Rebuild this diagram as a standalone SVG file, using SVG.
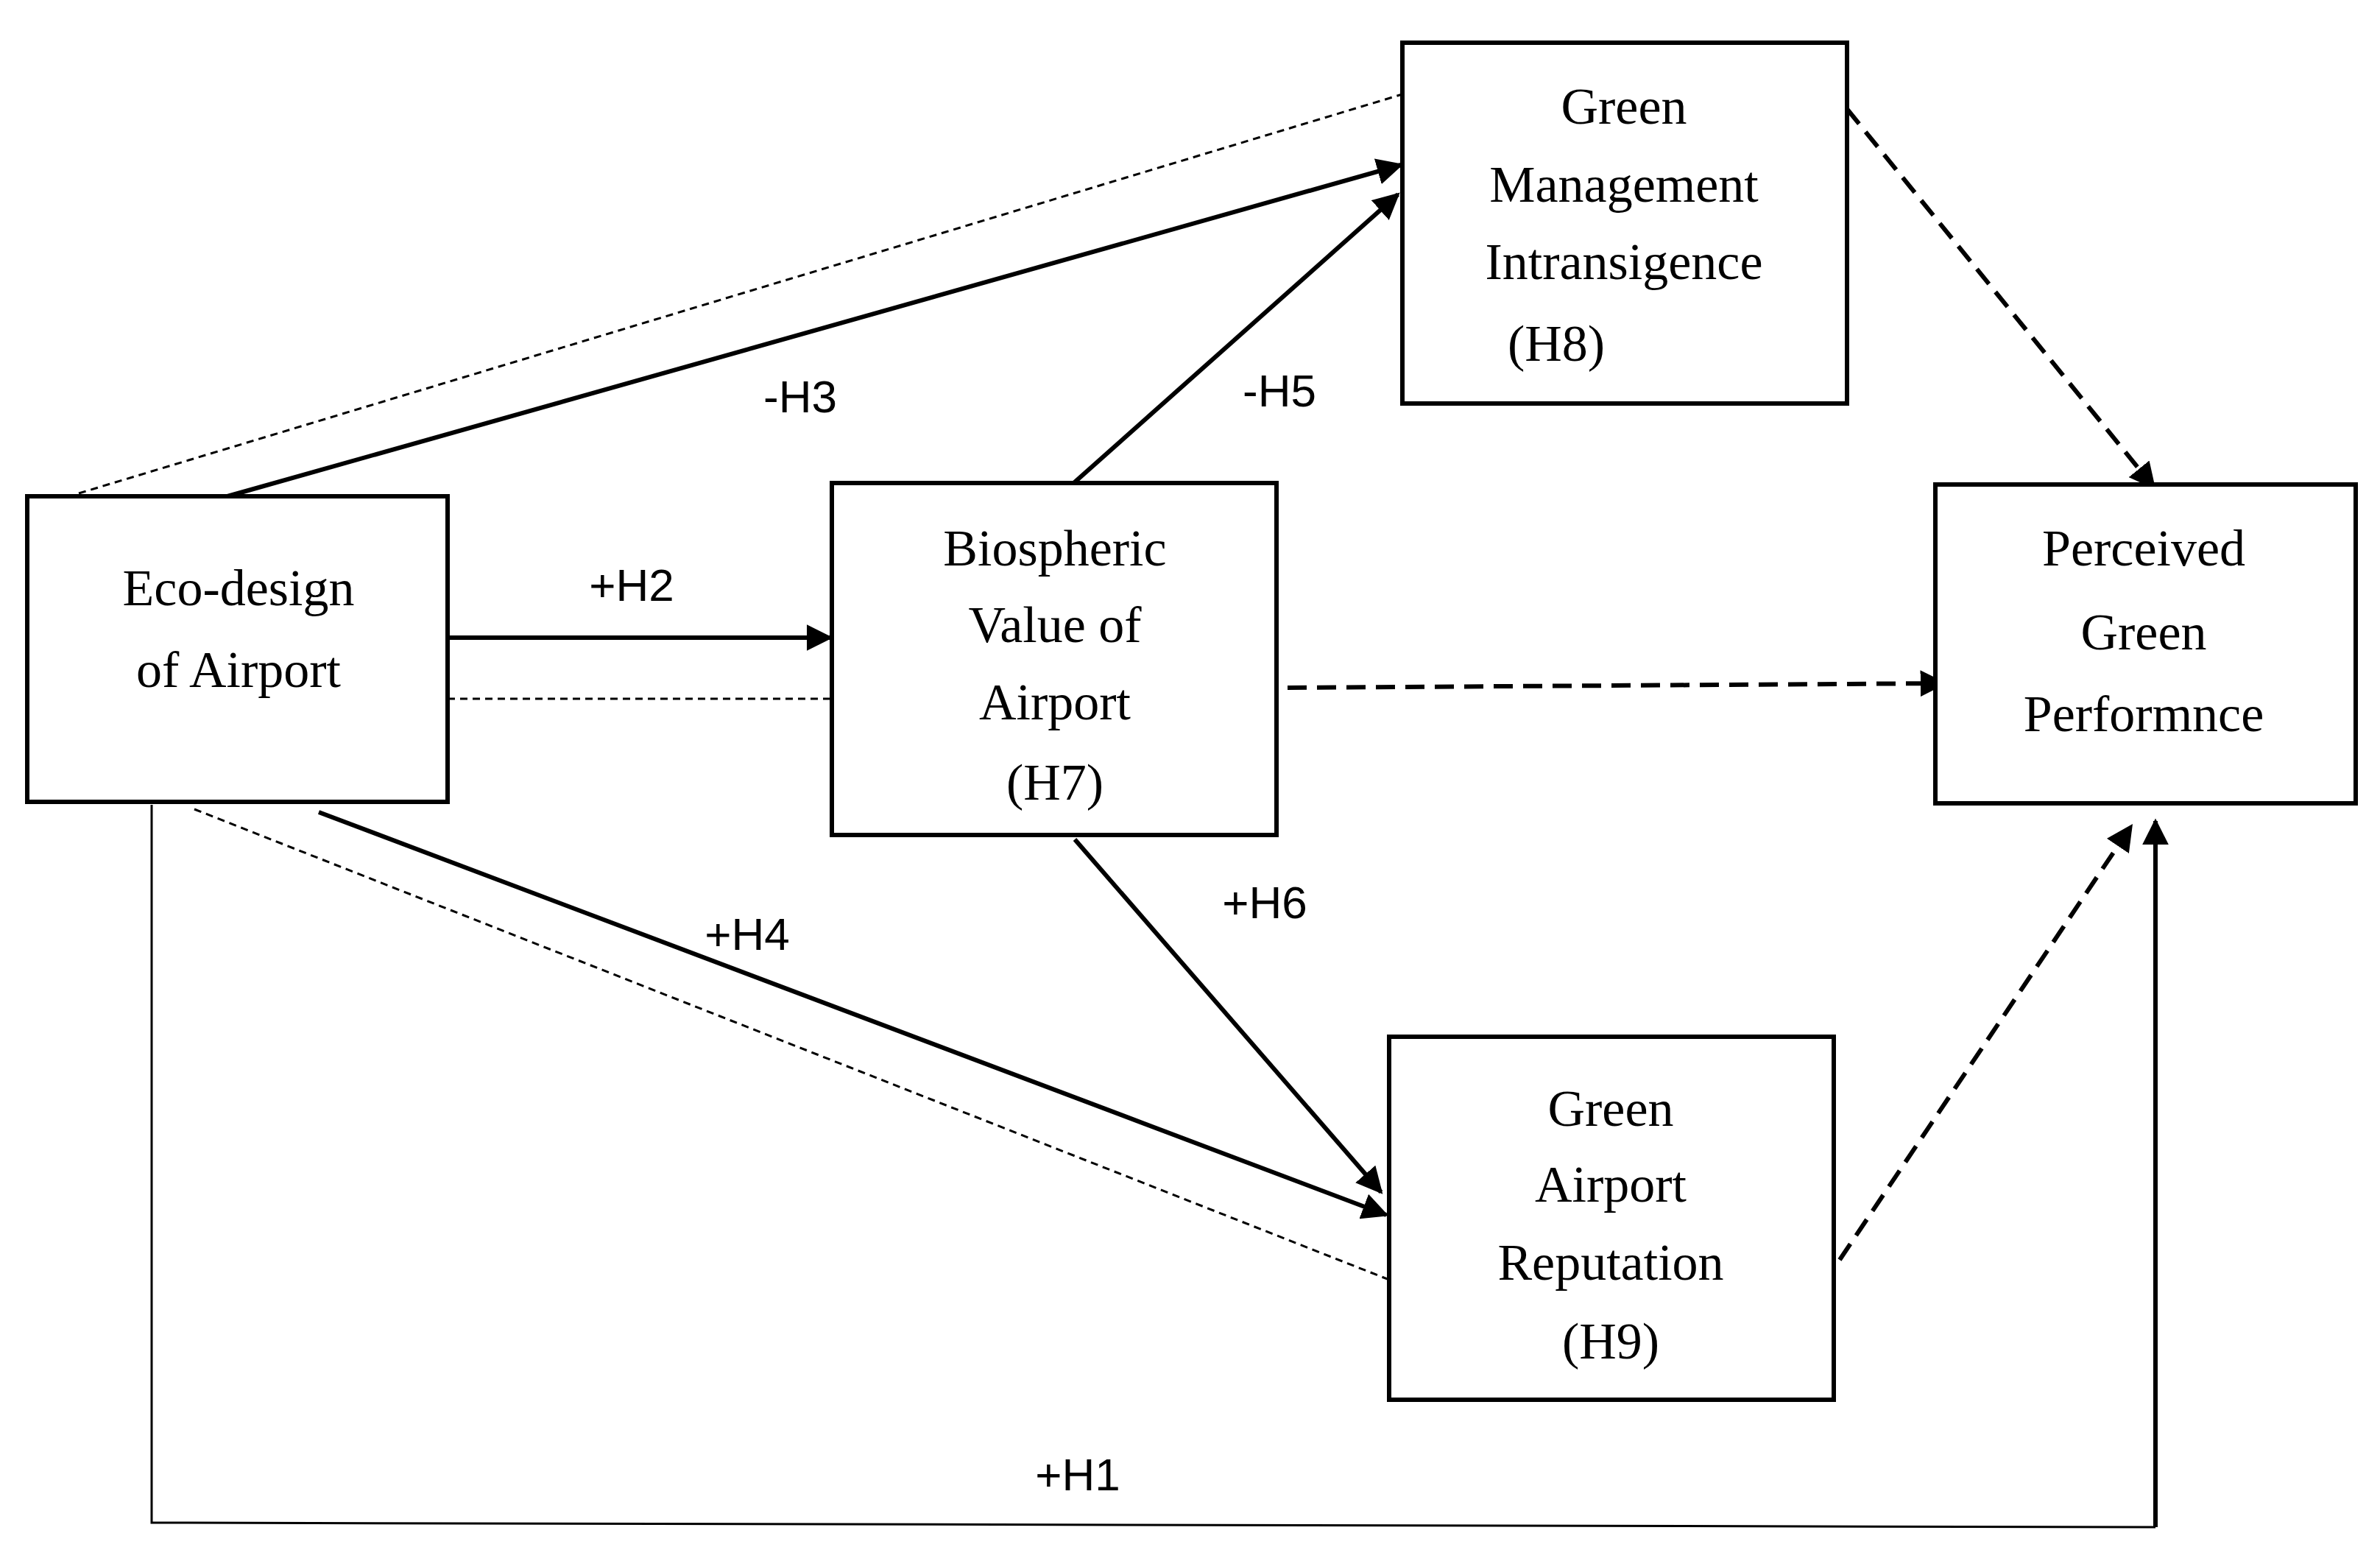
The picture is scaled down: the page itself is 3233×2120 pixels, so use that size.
<svg xmlns="http://www.w3.org/2000/svg" width="3233" height="2120" viewBox="0 0 3233 2120">
<style>
.box{fill:#fff;stroke:#000;stroke-width:6}
.t{font-family:"Liberation Serif",serif;font-size:70px;text-anchor:middle;fill:#000}
.l{font-family:"Liberation Sans",sans-serif;font-size:62px;text-anchor:middle;fill:#000}
.s{stroke:#000;stroke-width:6;fill:none}
.d{stroke:#000;stroke-width:3;fill:none;stroke-dasharray:10 7}
.dd{stroke:#000;stroke-width:6;fill:none;stroke-dasharray:26 14}
</style>
<defs>
<marker id="a" viewBox="0 0 10 10" refX="9" refY="5" markerWidth="6" markerHeight="6" markerUnits="strokeWidth" orient="auto"><path d="M0,0L10,5L0,10z" fill="#000"/></marker>
</defs>
<g id="connectors">
<line class="d" x1="107" y1="670" x2="1905" y2="128"/>
<line class="s" x1="309" y1="674" x2="1903" y2="224" marker-end="url(#a)"/>
<line class="s" x1="608" y1="866" x2="1128" y2="866" marker-end="url(#a)"/>
<line class="d" x1="608" y1="949" x2="1130" y2="949"/>
<line class="s" x1="1454" y1="660" x2="1899" y2="264" marker-end="url(#a)"/>
<line class="dd" x1="1749" y1="934" x2="2641" y2="928" marker-end="url(#a)"/>
<line class="dd" x1="2509" y1="148" x2="2926" y2="662" marker-end="url(#a)"/>
<line class="s" x1="1460" y1="1140" x2="1876" y2="1619" marker-end="url(#a)"/>
<line class="s" x1="433" y1="1103" x2="1883" y2="1650" marker-end="url(#a)"/>
<line class="d" x1="264" y1="1099" x2="1887" y2="1738"/>
<line class="dd" x1="2499" y1="1711" x2="2895" y2="1122" marker-end="url(#a)"/>
<polyline style="stroke:#000;stroke-width:3;fill:none" points="206,1093 206,2068 2928,2074"/>
<line class="s" x1="2928" y1="2074" x2="2928" y2="1115" marker-end="url(#a)"/>
<text class="l" x="1087" y="560">-H3</text>
<text class="l" x="858" y="816">+H2</text>
<text class="l" x="1738" y="552">-H5</text>
<text class="l" x="1718" y="1247">+H6</text>
<text class="l" x="1015" y="1290">+H4</text>
<text class="l" x="1464" y="2024">+H1</text>
</g>
<g id="eco"><rect class="box" x="37" y="674" width="571" height="415"/>
<text class="t" x="324" y="822">Eco-design</text><text class="t" x="324" y="933">of Airport</text></g>
<g id="bio"><rect class="box" x="1130" y="656" width="604" height="478"/>
<text class="t" x="1433" y="768">Biospheric</text><text class="t" x="1433" y="872">Value of</text><text class="t" x="1433" y="977">Airport</text><text class="t" x="1433" y="1086">(H7)</text></g>
<g id="gm"><rect class="box" x="1905" y="58" width="604" height="490"/>
<text class="t" x="2206" y="168">Green</text><text class="t" x="2206" y="274">Management</text><text class="t" x="2206" y="379">Intransigence</text><text class="t" x="2114" y="490">(H8)</text></g>
<g id="pgp"><rect class="box" x="2629" y="658" width="571" height="433"/>
<text class="t" x="2912" y="768">Perceived</text><text class="t" x="2912" y="882">Green</text><text class="t" x="2912" y="993">Performnce</text></g>
<g id="gar"><rect class="box" x="1887" y="1408" width="604" height="493"/>
<text class="t" x="2188" y="1529">Green</text><text class="t" x="2188" y="1632">Airport</text><text class="t" x="2188" y="1738">Reputation</text><text class="t" x="2188" y="1845">(H9)</text></g>
</svg>
